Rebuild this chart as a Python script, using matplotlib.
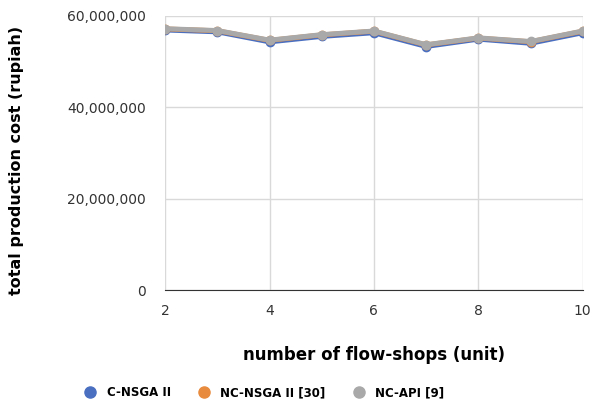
import matplotlib.pyplot as plt
from matplotlib.ticker import FuncFormatter
from matplotlib.lines import Line2D

flow_shops = [2, 3, 4, 5, 6, 7, 8, 9, 10]
c_nsga = [56.9e6, 56.5e6, 54.3e6, 55.5e6, 56.3e6, 53.3e6, 54.9e6, 54.0e6, 56.3e6]
nc_nsga = [57.15e6, 56.75e6, 54.65e6, 55.85e6, 56.65e6, 53.65e6, 55.15e6, 54.35e6, 56.65e6]
nc_api = [57.2e6, 56.8e6, 54.7e6, 55.9e6, 56.7e6, 53.7e6, 55.2e6, 54.4e6, 56.7e6]

series = [("C-NSGA II", c_nsga, "#4a6fc0"),
          ("NC-NSGA II [30]", nc_nsga, "#e88b3e"),
          ("NC-API [9]", nc_api, "#a9a9a9")]

fig = plt.figure(figsize=(5.94, 4.07), dpi=100)
ax = fig.add_axes([0.278, 0.287, 0.703, 0.674])

for name, vals, col in series:
    ax.plot(flow_shops, vals, color=col, lw=3.5, marker="o", ms=6,
            markeredgecolor=col, zorder=3)

ax.set_xlim(2, 10)
ax.set_ylim(0, 60e6)
ax.set_xticks([2, 4, 6, 8, 10])
ax.set_yticks([0, 20e6, 40e6, 60e6])
ax.yaxis.set_major_formatter(FuncFormatter(lambda v, p: f"{int(v):,}"))
ax.grid(True, color="#d9d9d9", lw=1)
for s in ["top", "right", "left"]:
    ax.spines[s].set_visible(False)
ax.spines["bottom"].set_color("#333333")
ax.tick_params(length=0, labelsize=10, colors="#333333")
ax.tick_params(axis="x", pad=10)
ax.tick_params(axis="y", pad=14)

ax.set_xlabel("number of flow-shops (unit)", fontsize=12, fontweight="bold", labelpad=20)
fig.text(17 / 594, 1 - 160 / 407, "total production cost (rupiah)", rotation=90,
         ha="center", va="center", fontsize=11.5, fontweight="bold")

handles = [Line2D([], [], ls="", marker="o", ms=8, color=c) for _, _, c in series]
fig.legend(handles, [s[0] for s in series], loc="center", bbox_to_anchor=(0.44, 0.035),
           ncol=3, frameon=False, handletextpad=0.4, columnspacing=1.8,
           prop={"weight": "bold", "size": 8.5})

fig.savefig("out.png", dpi=100)
